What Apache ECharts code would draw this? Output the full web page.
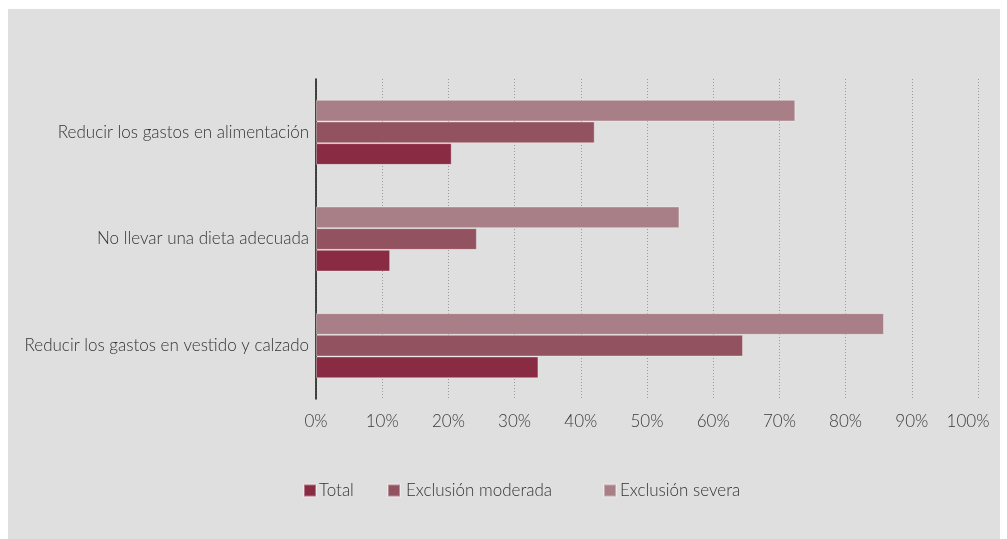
<!DOCTYPE html>
<html>
<head>
<meta charset="utf-8">
<script src="https://cdn.jsdelivr.net/npm/echarts@6/dist/echarts.min.js"></script>
<style>
html,body{margin:0;padding:0;background:#fff;}
#chart{width:1007px;height:539px;}
</style>
</head>
<body>
<div id="chart"></div>
<script>
// Categories listed top to bottom
const categories = [
  "Reducir los gastos en alimentación",
  "No llevar una dieta adecuada",
  "Reducir los gastos en vestido y calzado"
];
const seriesNames = ["Total", "Exclusión moderada", "Exclusión severa"];
const totalValues = [20.5, 11.2, 33.6];
const moderadaValues = [42.1, 24.3, 64.5];
const severaValues = [72.4, 54.9, 85.8];
const xTicks = [0, 10, 20, 30, 40, 50, 60, 70, 80, 90, 100];

const colors = ["#8a2b44", "#93525f", "#a87f86"];
const font = "Lato";
const chart = echarts.init(document.getElementById('chart'));

const mk = (name, data, color) => ({
  name: name,
  type: 'bar',
  data: data,
  barGap: '0%',
  barCategoryGap: '39%',
  itemStyle: { color: color, borderColor: 'rgba(255,255,255,0.35)', borderWidth: 1 },
  emphasis: { disabled: true }
});

const legendBase = (name, left, pad) => ({
  data: [name],
  left: left,
  top: 477,
  itemWidth: 12,
  itemHeight: 12,
  icon: 'rect',
  itemGap: 0,
  textStyle: { fontFamily: font, fontSize: 17, fontWeight: 300, color: '#333', padding: [0, 0, 0, pad] },
  selectedMode: false
});

chart.setOption({
  animation: false,
  backgroundColor: '#ffffff',
  graphic: [{
    type: 'rect', z: -10, silent: true,
    shape: { x: 8, y: 9, width: 992, height: 530 },
    style: { fill: '#dfdfdf' }
  }],
  legend: [
    legendBase(seriesNames[0], 298, -2),
    legendBase(seriesNames[1], 382, 1),
    legendBase(seriesNames[2], 598, -1)
  ],
  grid: { left: 316, right: 29, top: 79, bottom: 140, containLabel: false },
  xAxis: {
    type: 'value', min: xTicks[0], max: xTicks[xTicks.length - 1], interval: 10,
    axisLine: { show: false },
    axisTick: { show: false },
    axisLabel: {
      formatter: function (v) { return v === 100 ? '{m|' + v + '%}' : v + '%'; },
      fontFamily: font, fontSize: 17, fontWeight: 300, color: '#3a3a3a', margin: 14,
      rich: { m: { fontFamily: font, fontSize: 17, fontWeight: 300, color: '#3a3a3a', padding: [0, 20, 0, 0] } }
    },
    splitLine: { show: true, lineStyle: { color: '#9a9a9a', type: [1, 2], width: 1 } }
  },
  yAxis: {
    type: 'category', data: categories, inverse: true,
    axisLine: { show: true, lineStyle: { color: '#111', width: 1.5 } },
    axisTick: { show: false },
    axisLabel: { fontFamily: font, fontSize: 17, fontWeight: 300, color: '#333', margin: 7 }
  },
  series: [
    mk(seriesNames[2], severaValues, colors[2]),
    mk(seriesNames[1], moderadaValues, colors[1]),
    mk(seriesNames[0], totalValues, colors[0])
  ]
});
</script>
</body>
</html>
